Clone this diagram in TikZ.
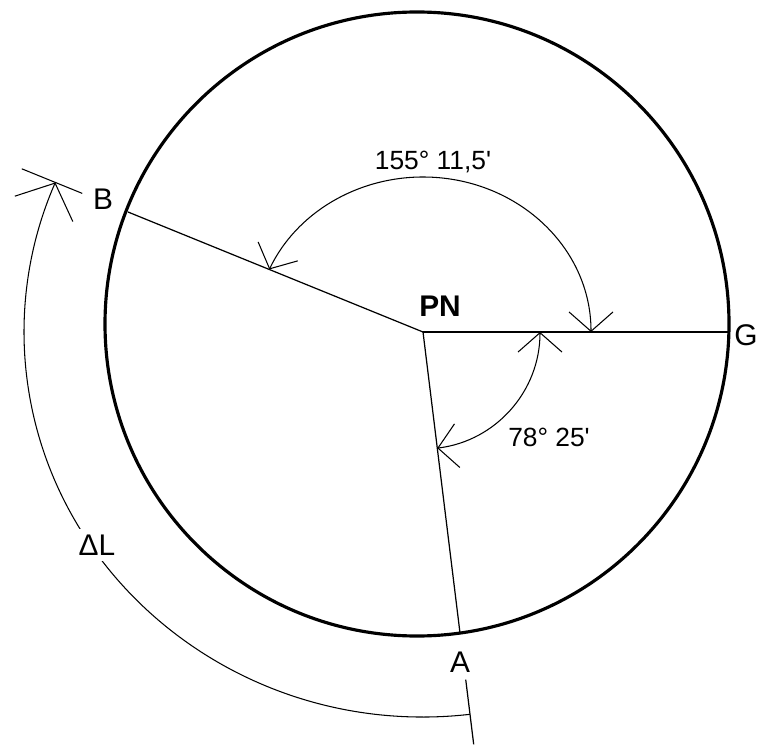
\documentclass[tikz,border=0pt]{standalone}
\usepackage{fontspec}
\setmainfont{Liberation Sans}
\usetikzlibrary{arrows.meta,calc}

\begin{document}
\begin{tikzpicture}[
    x=0.02cm, y=0.02cm,
    rim/.style={draw, line width=1.8pt},
    ray/.style={draw, line width=0.7pt},
    angarc/.style={draw, line width=0.6pt},
    barbs/.style={{Straight Barb[length=11pt,width=25pt]}-{Straight Barb[length=11pt,width=25pt]}},
    bigbarb/.style={-{Straight Barb[length=16pt,width=36pt]}},
    lbl/.style={font=\fontsize{17}{20}\selectfont, inner sep=1pt},
    val/.style={font=\fontsize{15}{18}\selectfont, inner sep=1pt}
]
    \useasboundingbox (0,0) rectangle (759,744);

    \coordinate (O) at (417,420);
    \coordinate (PN) at (423,412);
    \coordinate (B) at (128,532);
    \coordinate (G) at (728,412);
    \coordinate (A) at (460,111);
    \coordinate (Atop) at ($(PN)!1.155!(A)$);
    \coordinate (Afoot) at ($(PN)!1.37!(A)$);
    \coordinate (Bin) at ($(PN)!1.155!(B)$);
    \coordinate (Bout) at ($(PN)!1.36!(B)$);

    \draw[rim] (O) circle[radius=312];
    \draw[ray] (PN) -- (B);
    \draw[ray] (PN) -- (G);
    \draw[ray] (PN) -- (A);
    \draw[ray] (Atop) -- (Afoot);
    \draw[angarc] (Bin) -- (Bout);

    \draw[angarc, barbs] ([shift={(0:117)}]PN)
        arc[start angle=0, end angle=-83, radius=117];
    \draw[angarc, barbs] ([shift={(168,0)}]PN)
        arc[start angle=0, end angle=156.2, x radius=168, y radius=155];
    \draw[angarc, bigbarb] ([shift={(-83.24:399 and 385)}]PN)
        arc[start angle=-83.24, end angle=-202.86, x radius=399, y radius=385];

    \node[lbl] (Blab) at (103,545) {B};
    \node[lbl, font=\fontsize{17}{20}\selectfont\bfseries] (PNlab) at (440,438) {PN};
    \node[lbl, anchor=east, inner sep=0pt] (Glab) at (758,409) {G};
    \node[lbl] (Alab) at (460,82) {A};
    \node[val] (bigang) at (433,582) {155° 11,5\textquotesingle};
    \node[val] (smallang) at (549,307) {78° 25\textquotesingle};
    \node[lbl, fill=white, inner sep=3pt] (dL) at (97,199) {ΔL};
\end{tikzpicture}
\end{document}
